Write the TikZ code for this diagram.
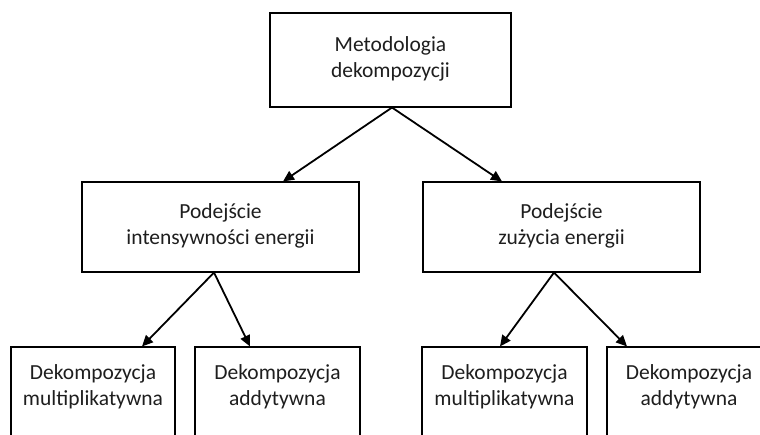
\documentclass[tikz,border=0pt]{standalone}
\usepackage{fontspec}
\setmainfont{Carlito}
\usetikzlibrary{arrows.meta,calc}
\definecolor{txtc}{RGB}{30,30,30}
\begin{document}
\begin{tikzpicture}[x=1pt,y=-1pt,
  box/.style={draw=black, line width=1.1pt, rectangle, inner sep=0pt, fill=white},
  lbl/.style={font=\fontsize{21.5}{26.5}\selectfont, text=txtc, align=center, inner sep=0pt},
  conn/.style={line width=1.8pt, -{Triangle[length=11pt,width=10pt]}}]
\useasboundingbox (0,0) rectangle (760,435);
\clip (0,0) rectangle (760,435);
% boxes
\node[box, minimum width=241pt, minimum height=94pt] (top) at (390.5,60) {};
\node[lbl] (topt) at (390.5,59) {Metodologia\\dekompozycji};
\node[box, minimum width=277pt, minimum height=90pt] (ml) at (220.5,227) {};
\node[lbl] (mlt) at (220.5,226) {Podejście\\intensywności energii};
\node[box, minimum width=277pt, minimum height=90pt] (mr) at (561.5,227) {};
\node[lbl] (mrt) at (561.5,226) {Podejście\\zużycia energii};
\node[box, minimum width=164pt, minimum height=110pt] (b1) at (93,402) {};
\node[lbl] (b1t) at (93,387) {Dekompozycja\\multiplikatywna};
\node[box, minimum width=165pt, minimum height=110pt] (b2) at (277.5,402) {};
\node[lbl] (b2t) at (277.5,387) {Dekompozycja\\addytywna};
\node[box, minimum width=165pt, minimum height=110pt] (b3) at (504.5,402) {};
\node[lbl] (b3t) at (504.5,387) {Dekompozycja\\multiplikatywna};
\node[box, minimum width=164pt, minimum height=110pt] (b4) at (689,402) {};
\node[lbl] (b4t) at (689,387) {Dekompozycja\\addytywna};
% connectors
\draw[conn] ([xshift=1.5pt]top.south) -- ([xshift=62.5pt]ml.north);
\draw[conn] ([xshift=1.5pt]top.south) -- ([xshift=-59.5pt]mr.north);
\draw[conn] ([xshift=-6.5pt]ml.south) -- ([xshift=49pt]b1.north);
\draw[conn] ([xshift=-6.5pt]ml.south) -- ([xshift=-27.5pt]b2.north);
\draw[conn] ([xshift=-7.5pt]mr.south) -- ([xshift=-4.5pt]b3.north);
\draw[conn] ([xshift=-7.5pt]mr.south) -- ([xshift=-62pt]b4.north);
\end{tikzpicture}
\end{document}
